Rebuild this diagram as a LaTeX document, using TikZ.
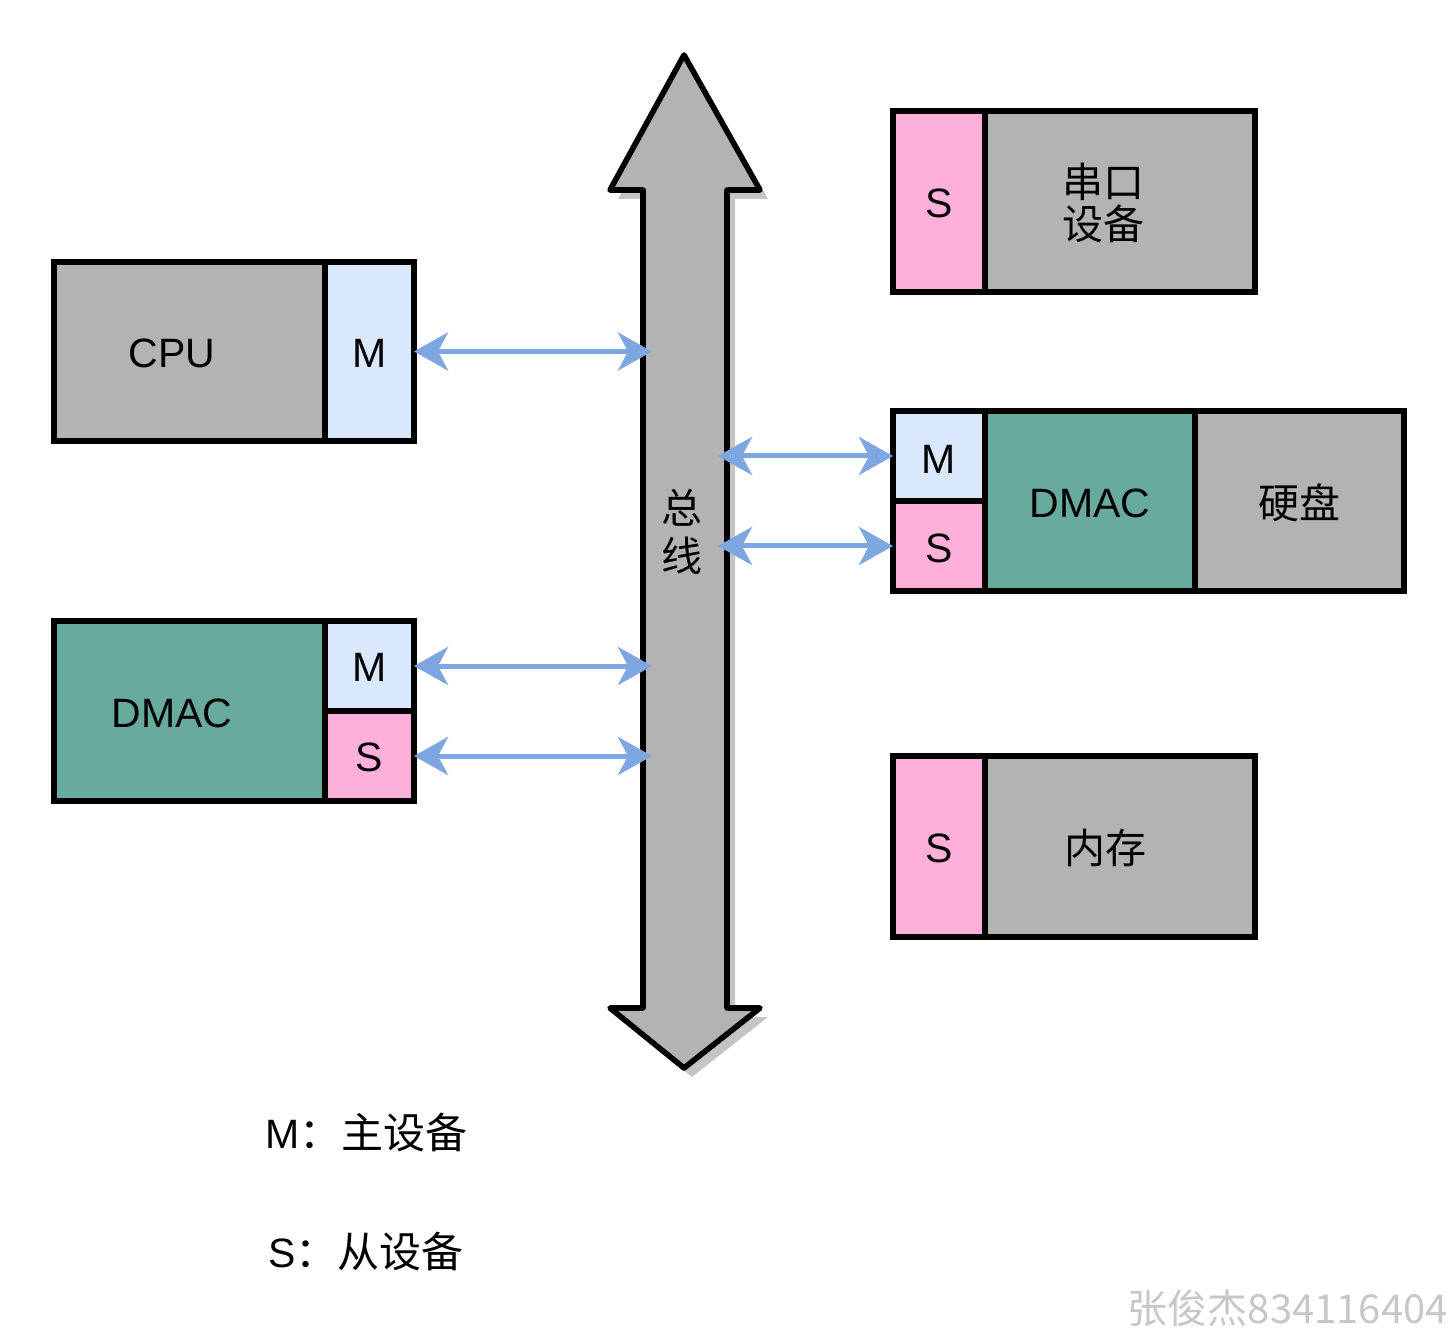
\documentclass[tikz,border=0pt]{standalone}
\usepackage{fontspec}
\setmainfont{Liberation Sans}
\newfontfamily\cjk{Noto Sans CJK SC}
\usetikzlibrary{arrows.meta}
\definecolor{gbox}{HTML}{B3B3B3}
\definecolor{mbox}{HTML}{DAE8FC}
\definecolor{sbox}{HTML}{FFB0DA}
\definecolor{dbox}{HTML}{67AB9F}
\definecolor{conn}{HTML}{7EA6E0}
\definecolor{shad}{HTML}{C4C4C4}
\begin{document}
\begin{tikzpicture}[x=0.5pt,y=-0.5pt,
  box/.style={draw=black, line width=2.6pt, inner sep=0pt, outer sep=0pt},
  graybox/.style={box, fill=gbox},
  mastbox/.style={box, fill=mbox},
  slavbox/.style={box, fill=sbox},
  dmacbox/.style={box, fill=dbox},
  lbl/.style={inner sep=0pt, font=\fontsize{20.5}{22}\selectfont},
  clbl/.style={inner sep=0pt, font=\cjk\fontsize{20.5}{24}\selectfont, align=center},
  link/.style={draw=conn, line width=2.5pt, {Stealth[length=17pt,width=19pt,inset=5pt]}-{Stealth[length=17pt,width=19pt,inset=5pt]}},
  shadowarrow/.style={fill=shad, draw=none},
  busarrow/.style={fill=gbox, draw=black, line width=2.8pt, line join=round}
]
\useasboundingbox (0,0) rectangle (1456,1336);

% bus arrow with shadow
\fill[shadowarrow, shift={(8,9)}] (684,55) -- (760,190) -- (727,190) -- (727,1008) -- (760,1008) -- (684,1068) -- (610,1008) -- (643,1008) -- (643,190) -- (610,190) -- cycle;
\draw[busarrow] (684,55) -- (760,190) -- (727,190) -- (727,1008) -- (760,1008) -- (684,1068) -- (610,1008) -- (643,1008) -- (643,190) -- (610,190) -- cycle;
\node[clbl] (bustxt) at (682,532) {总\\线};

% CPU
\node[graybox, minimum width=271*0.5pt, minimum height=179*0.5pt] (cpu) at (189.5,351.5) {};
\node[mastbox, minimum width=89*0.5pt, minimum height=179*0.5pt] (cpum) at (369.5,351.5) {};
\node[lbl] (cputxt) at (172,353) {CPU};
\node[lbl] (cpumtxt) at (369.5,353) {M};

% left DMAC
\node[dmacbox, minimum width=271*0.5pt, minimum height=180*0.5pt] (ldmac) at (189.5,711) {};
\node[mastbox, minimum width=89*0.5pt, minimum height=90*0.5pt] (ldm) at (369.5,666) {};
\node[slavbox, minimum width=89*0.5pt, minimum height=90*0.5pt] (lds) at (369.5,756) {};
\node[lbl] (ldmactxt) at (172,713) {DMAC};
\node[lbl] (ldmtxt) at (369.5,667) {M};
\node[lbl] (ldstxt) at (369.5,757) {S};

% serial device
\node[slavbox, minimum width=92*0.5pt, minimum height=181*0.5pt] (sers) at (939,201.5) {};
\node[graybox, minimum width=270*0.5pt, minimum height=181*0.5pt] (ser) at (1120,201.5) {};
\node[lbl] (serstxt) at (939,203) {S};
\node[clbl] (sertxt) at (1103,203) {串口\\[-3pt]设备};

% right DMAC + disk
\node[mastbox, minimum width=92*0.5pt, minimum height=90*0.5pt] (rdm) at (939,456) {};
\node[slavbox, minimum width=92*0.5pt, minimum height=90*0.5pt] (rds) at (939,546) {};
\node[dmacbox, minimum width=210*0.5pt, minimum height=180*0.5pt] (rdmac) at (1090,501) {};
\node[graybox, minimum width=209*0.5pt, minimum height=180*0.5pt] (disk) at (1299.5,501) {};
\node[lbl] (rdmtxt) at (939,459) {M};
\node[lbl] (rdstxt) at (939,548) {S};
\node[lbl] (rdmactxt) at (1090,503) {DMAC};
\node[clbl] (disktxt) at (1299,503) {硬盘};

% memory
\node[slavbox, minimum width=92*0.5pt, minimum height=181*0.5pt] (mems) at (939,846.5) {};
\node[graybox, minimum width=270*0.5pt, minimum height=181*0.5pt] (mem) at (1120,846.5) {};
\node[lbl] (memstxt) at (939,848) {S};
\node[clbl] (memtxt) at (1105,848) {内存};

% bus attachment points (same heights as the port boxes)
\coordinate (busL1) at (652,351.5);
\coordinate (busL2) at (652,666);
\coordinate (busL3) at (652,756);
\coordinate (busR1) at (718,456);
\coordinate (busR2) at (718,546);

% connectors
\draw[link] (cpum.east) -- (busL1);
\draw[link] (ldm.east) -- (busL2);
\draw[link] (lds.east) -- (busL3);
\draw[link] (busR1) -- (rdm.west);
\draw[link] (busR2) -- (rds.west);

% legend
\node[lbl, anchor=west] (legm) at (265,1133) {M{\cjk\fontsize{21}{24}\selectfont：主设备}};
\node[lbl, anchor=west] (legs) at (268,1252) {S{\cjk\fontsize{21}{24}\selectfont：从设备}};

% watermark
\node[anchor=east, inner sep=0pt, text=black!22, font=\cjk\fontsize{20}{22}\selectfont] (wm) at (1448,1308) {张俊杰834116404};
\end{tikzpicture}
\end{document}
